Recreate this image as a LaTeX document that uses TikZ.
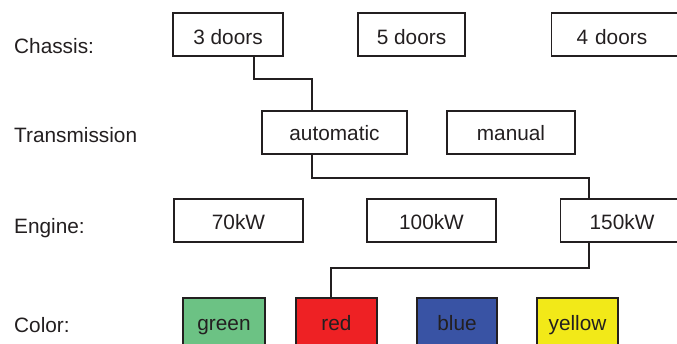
\documentclass[tikz,border=0pt]{standalone}
\usepackage{fontspec}
\setmainfont{Liberation Sans}
\definecolor{ink}{HTML}{231F20}
\definecolor{cgreen}{RGB}{108,194,132}
\definecolor{cred}{RGB}{238,33,36}
\definecolor{cblue}{RGB}{57,83,164}
\definecolor{cyellow}{RGB}{242,233,24}
\tikzset{
  every node/.style={font=\fontsize{20.8pt}{24pt}\selectfont, text=ink},
  box/.style={draw=ink, line width=1.3pt, inner sep=0pt, minimum height=43pt,
    text height=15pt, text depth=0pt},
  rowA/.style={text height=20pt},
  rowC/.style={text height=17pt},
  swatch/.style={box, minimum height=49pt},
  wire/.style={draw=ink, line width=1.8pt},
  lbl/.style={anchor=base west, inner sep=0pt},
}
\begin{document}
\begin{tikzpicture}[x=1pt, y=-1pt]
\useasboundingbox (0,0) rectangle (677,343);
\clip (0,0) rectangle (677,343);
\fill[white] (0,0) rectangle (677,343);

% row labels
\node[lbl] (lchassis) at (14,53) {Chassis:};
\node[lbl] (ltrans) at (14,142) {Transmission};
\node[lbl] (lengine) at (14,233) {Engine:};
\node[lbl] (lcolor) at (14,332) {Color:};

% chassis options
\node[box, rowA, minimum width=110pt] (d3) at (228,34.5) {3 doors};
\node[box, rowA, minimum width=107pt] (d5) at (411.5,34.5) {5 doors};
\node[box, rowA, anchor=west, inner xsep=25pt, text width=90pt, align=left] (d4) at (551,34.5) {4 doors};

% transmission options
\node[box, minimum width=145pt] (auto) at (334.5,132.5) {automatic};
\node[box, minimum width=128pt] (man) at (511,132.5) {manual};

% engine options
\node[box, rowC, minimum width=129pt] (k70) at (238.5,220.5) {70kW};
\node[box, rowC, minimum width=129pt] (k100) at (431.5,220.5) {100kW};
\node[box, rowC, anchor=west, inner xsep=29pt, text width=100pt, align=left] (k150) at (560,220.5) {150kW};

% colour options
\node[swatch, fill=cgreen, minimum width=82pt] (green) at (224,322.5) {green};
\node[swatch, fill=cred, minimum width=81pt] (red) at (336.5,322.5) {red};
\node[swatch, fill=cblue, minimum width=80pt] (blue) at (457,322.5) {blue};
\node[swatch, fill=cyellow, minimum width=81pt] (yellow) at (577.5,322.5) {yellow};

% selected path through the options
\coordinate (c1) at (254,79);
\coordinate (c2) at (312,79);
\coordinate (c3) at (312,178);
\coordinate (c4) at (589,178);
\coordinate (c5) at (589,268);
\coordinate (c6) at (331,268);
\draw[wire] (d3.south -| c1) -- (c1) -- (c2) -- (auto.north -| c2);
\draw[wire] (auto.south -| c3) -- (c3) -- (c4) -- (k150.north -| c4);
\draw[wire] (k150.south -| c5) -- (c5) -- (c6) -- (red.north -| c6);
\end{tikzpicture}
\end{document}
